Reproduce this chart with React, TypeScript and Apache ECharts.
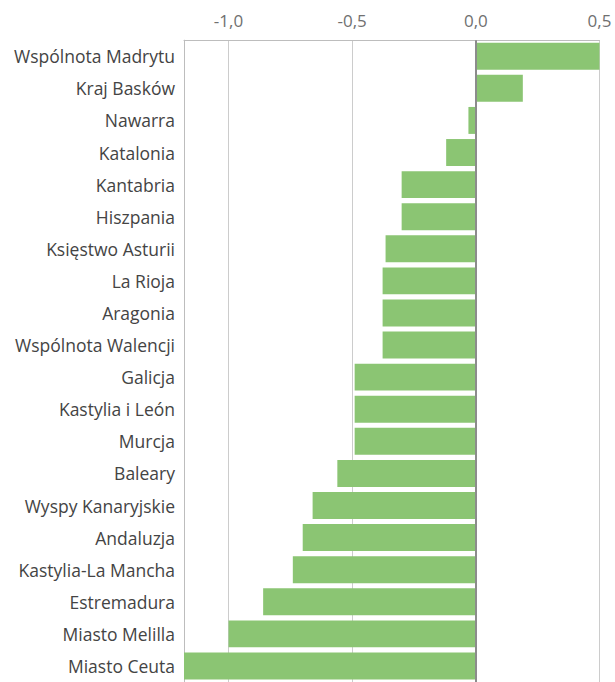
import React, { useEffect, useRef } from "react";
import * as echarts from "echarts";

const categories = [
  "Wspólnota Madrytu",
  "Kraj Basków",
  "Nawarra",
  "Katalonia",
  "Kantabria",
  "Hiszpania",
  "Księstwo Asturii",
  "La Rioja",
  "Aragonia",
  "Wspólnota Walencji",
  "Galicja",
  "Kastylia i León",
  "Murcja",
  "Baleary",
  "Wyspy Kanaryjskie",
  "Andaluzja",
  "Kastylia-La Mancha",
  "Estremadura",
  "Miasto Melilla",
  "Miasto Ceuta",
];

const values = [
  0.5, 0.19, -0.03, -0.12, -0.3, -0.3, -0.365, -0.377, -0.377, -0.377,
  -0.49, -0.49, -0.49, -0.56, -0.66, -0.7, -0.74, -0.86, -1.0, -1.18,
];

const tickValues = [-1.0, -0.5, 0.0, 0.5];

const FONT = "'Open Sans', 'Noto Sans', sans-serif";

export default function App() {
  const ref = useRef<HTMLDivElement>(null);
  useEffect(() => {
    if (!ref.current) return;
    const chart = echarts.init(ref.current, undefined, { renderer: "svg" });
    chart.setOption({
      animation: false,
      grid: { left: 184, right: 15.5, top: 40.2, height: 644.6, containLabel: false },
      xAxis: {
        type: "value",
        position: "top",
        min: -1.18,
        max: 0.5,
        axisLine: { show: true, lineStyle: { color: "#bdbdbd", width: 1 } },
        axisTick: { show: false, customValues: tickValues },
        axisLabel: {
          customValues: tickValues,
          color: "#707070",
          fontSize: 17,
          fontFamily: FONT,
          margin: 11,
          formatter: (v: number) => v.toFixed(1).replace(".", ","),
        },
        splitLine: { show: true, lineStyle: { color: "#cccccc", width: 1 } },
      },
      yAxis: {
        type: "category",
        inverse: true,
        data: categories,
        axisLine: { show: true, onZero: false, lineStyle: { color: "#bdbdbd", width: 1 } },
        axisTick: { show: false },
        axisLabel: {
          color: "#444444",
          fontSize: 17.5,
          fontFamily: FONT,
          margin: 9,
        },
      },
      series: [
        {
          type: "bar",
          data: values,
          barCategoryGap: "16%",
          itemStyle: { color: "#8bc573" },
          markLine: {
            silent: true,
            symbol: ["none", "none"],
            label: { show: false },
            lineStyle: { color: "#8c8c8c", width: 2, type: "solid" },
            data: [{ xAxis: 0 }],
          },
        },
      ],
    });
    return () => chart.dispose();
  }, []);
  return (
    <div
      ref={ref}
      style={{ position: "absolute", left: 0, top: 0, width: 615, height: 682 }}
    />
  );
}
